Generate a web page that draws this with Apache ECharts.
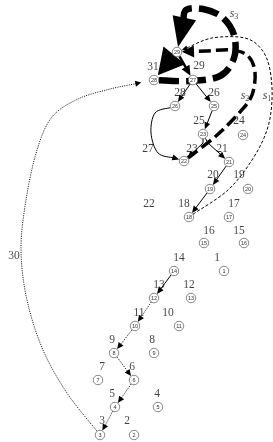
<!DOCTYPE html>
<html><head><meta charset="utf-8">
<script src="https://cdn.jsdelivr.net/npm/echarts@6/dist/echarts.min.js"></script>
<style>html,body{margin:0;padding:0;background:#fff}#c{width:273px;height:442px}</style>
</head><body><div id="c"></div>
<script>
// circled node numbers and their positions (chart units)
const nodeNum = [1,2,3,4,5,6,7,8,9,10,11,12,13,14,15,16,17,18,19,20,21,22,23,24,25,26,27,28,29];
const nodeX = [224,134,100,115,158,134,98,114,154,135,179,154,191,174,204,244,229,189,210,248,229,184,203,243,214,175,193,154,177];
const nodeY = [271,435,435,407,407,380,380,353,353,326,326,298,298,271,243,243,217,217,189,189,162,161,134,135,106,106,80,80,52];

// plain number labels
const labelText = ['31','29','28','26','25','24','27','23','21','20','19','22','18','17','16','15','14','1','13','12','11','10','9','8','7','6','5','4','3','2','30'];
const labelX = [153,199,180,214,199,239,148,192,222,213,239,149,184,234,209,239,179,217,159,189,139,168,112,152,102,132,112,157,102,127,14];
const labelY = [67,66,93,93,121,121,149,149,149,175,175,204,204,204,231,231,258,258,285,285,313,313,340,340,367,367,394,394,421,421,256];

// path names s1, s2, s3
const pathSub = ['1','2','3'];
const pathX = [267,245,234];
const pathY = [96,96,14];

// edges between circled nodes
const edgeFrom = [27,27,25,23,23,21,19,14,26,29,29,12,10,8,6,4,3,22,18,28];
const edgeTo   = [26,25,23,22,21,19,18,12,22,27,28,10,8,6,4,3,28,29,29,29];
const edgeKind = ['solid','solid','solid','solid','solid','solid','solid','solid','solid','medium','huge',
                  'dotted','dotted','dotted','dotted','dotted','dottedLong','s2','s1','s3'];
const edgeVia = [null,null,null,[[203,143]],[[208,143]],null,null,null,
  [[155,113],[151,133],[158,153]],
  null,null,null,null,null,null,null,
  [[67,393],[43,350],[27,300],[21,250],[26,200],[37,150],[52,117],[78,99],[110,89]],
  [[216,136],[240,112],[252,95],[255,72],[248,56],[232,50],[206,51]],
  [[228,190],[252,160],[267,130],[272,100],[270,70],[262,50],[245,38],[212,38]],
  [[190,81],[220,76],[234,58],[234,35],[222,17],[203,9],[186,10]]
];

const STYLE = {
  solid:{w:1,dash:null,head:7,hw:6,gap:0},
  medium:{w:2.5,dash:null,head:10,hw:9,gap:0},
  huge:{w:6,dash:null,head:26,hw:28,gap:1},
  dotted:{w:1,dash:[1,1.3],head:6.5,hw:6,gap:0},
  dottedLong:{w:1,dash:[1,1.3],head:6,hw:6,gap:8},
  s1:{w:1,dash:[3,2],head:6,hw:5,gap:0},
  s2:{w:3.5,dash:[12,5],head:12,hw:12,gap:0},
  s3:{w:6.5,dash:[20,7],head:30,hw:24,gap:0}
};
const R = 5;

function idx(n){return nodeNum.indexOf(n);}
function sub(a,b){return [a[0]-b[0],a[1]-b[1]];}
function add(a,b){return [a[0]+b[0],a[1]+b[1]];}
function mul(a,s){return [a[0]*s,a[1]*s];}
function nrm(a){const l=Math.hypot(a[0],a[1])||1;return [a[0]/l,a[1]/l];}

function pathData(pts, smooth){
  let d='M'+pts[0][0]+' '+pts[0][1];
  if(!smooth){for(let i=1;i<pts.length;i++)d+=' L'+pts[i][0]+' '+pts[i][1];return d;}
  for(let i=0;i<pts.length-1;i++){
    const p0=pts[i-1]||pts[i],p1=pts[i],p2=pts[i+1],p3=pts[i+2]||p2;
    const c1=add(p1,mul(sub(p2,p0),1/6)), c2=sub(p2,mul(sub(p3,p1),1/6));
    d+=' C'+c1[0]+' '+c1[1]+' '+c2[0]+' '+c2[1]+' '+p2[0]+' '+p2[1];
  }
  return d;
}

function renderEdge(params, api){
  const i = api.value(2);
  const k = STYLE[edgeKind[i]];
  const a = idx(edgeFrom[i]), b = idx(edgeTo[i]);
  const P0 = api.coord([nodeX[a],nodeY[a]]);
  const P1 = api.coord([nodeX[b],nodeY[b]]);
  const via = (edgeVia[i]||[]).map(p=>api.coord(p));
  const first = via.length?via[0]:P1;
  const last = via.length?via[via.length-1]:P0;
  const d0 = nrm(sub(first,P0));
  const start = add(P0,mul(d0,R));
  const d1 = nrm(sub(P1,last));
  const tip = sub(P1,mul(d1,R+k.gap));
  const base = sub(tip,mul(d1,k.head*0.85));
  const pts=[start].concat(via,[base]);
  const perp=[-d1[1],d1[0]];
  const hb = sub(tip,mul(d1,k.head));
  const children=[{
    type:'path',
    shape:{pathData:pathData(pts, via.length>=2)},
    style:{fill:null,stroke:'#000',lineWidth:k.w,lineDash:k.dash||null,lineCap:'butt'}
  },{
    type:'polygon',
    shape:{points:[tip,add(hb,mul(perp,k.hw/2)),sub(hb,mul(perp,k.hw/2))]},
    style:{fill:'#000',stroke:null}
  }];
  return {type:'group',children:children};
}

const chart = echarts.init(document.getElementById('c'),null,{renderer:'canvas'});
chart.setOption({
  animation:false,
  backgroundColor:'#fff',
  grid:{left:0,right:0,top:0,bottom:0},
  xAxis:{type:'value',min:0,max:273,show:false},
  yAxis:{type:'value',min:0,max:442,inverse:true,show:false},
  series:[
    {
      type:'scatter',z:1,symbolSize:0,silent:true,
      data:labelText.map((t,i)=>[labelX[i],labelY[i],t]),
      label:{show:true,position:'inside',formatter:p=>p.value[2],
        fontFamily:'Liberation Serif',fontSize:11.5,color:'#111'}
    },
    {
      type:'scatter',z:1,symbolSize:0,silent:true,
      data:pathSub.map((t,i)=>[pathX[i],pathY[i],t]),
      label:{show:true,position:'inside',formatter:p=>'{a|s}{b|'+p.value[2]+'}',
        rich:{a:{fontFamily:'Liberation Serif',fontStyle:'italic',fontSize:12,color:'#111'},
              b:{fontFamily:'Liberation Serif',fontSize:8,color:'#111',padding:[6,0,0,0]}}}
    },
    {
      type:'custom',z:2,clip:false,silent:true,
      renderItem:renderEdge,
      encode:{x:0,y:1},
      data:edgeFrom.map((f,i)=>[nodeX[idx(f)],nodeY[idx(f)],i])
    },
    {
      type:'scatter',z:3,symbol:'circle',symbolSize:9.5,silent:true,
      itemStyle:{color:'#fff',borderColor:'#555',borderWidth:0.7,opacity:1},
      data:nodeNum.map((n,i)=>[nodeX[i],nodeY[i],n]),
      label:{show:true,position:'inside',formatter:p=>p.value[2],
        fontFamily:'Liberation Sans',fontSize:5.5,color:'#333'}
    }
  ]
});
</script></body></html>
